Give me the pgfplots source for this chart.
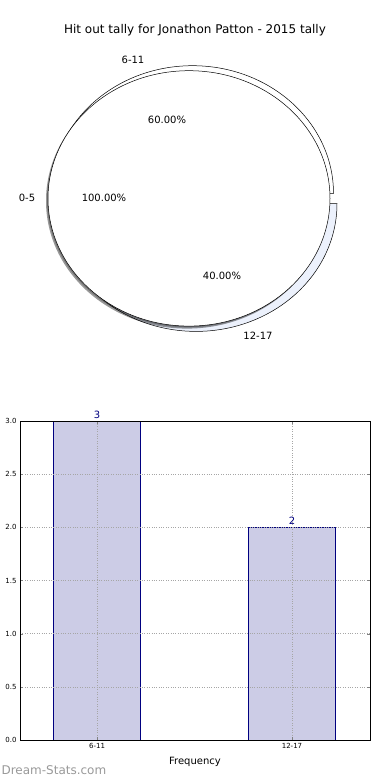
\documentclass[border=0pt]{standalone}
\usepackage{pgfplots}
\pgfplotsset{compat=1.18}
\usepackage{fontspec}
\setmainfont{DejaVu Sans}
\definecolor{barfill}{RGB}{204,204,230}
\definecolor{baredge}{RGB}{0,0,128}
\definecolor{wedgeblue}{RGB}{236,241,252}
\newcommand{\fs}[1]{\fontsize{#1bp}{#1bp}\selectfont}
\begin{document}
\begin{tikzpicture}
\useasboundingbox (0,0) rectangle (390bp,780bp);
% ---------- pie ----------
\def\vA{3}\def\vB{2}
\pgfmathsetmacro{\aA}{360*\vA/(\vA+\vB)}
\begin{axis}[at={(189bp,581.6bp)}, anchor=center, scale only axis,
  width=282bp, height=255.4bp, xmin=-1, xmax=1, ymin=-1, ymax=1,
  hide axis, clip=false]
\addplot[draw=none] coordinates {(0,0)};
% 12-17 wedge (exploded)
\filldraw[fill=wedgeblue, draw=black, line width=0.5bp, shift={(7bp,-5.3bp)}]
  (axis cs:0,0) -- ++(\aA:141bp and 127.7bp)
  arc[start angle=\aA, end angle=360, x radius=141bp, y radius=127.7bp] -- cycle;
% 6-11 wedge (exploded)
\filldraw[fill=white, draw=black, line width=0.5bp, shift={(3.5bp,5bp)}]
  (axis cs:0,0) -- ++(0:141bp and 127.7bp)
  arc[start angle=0, end angle=\aA, x radius=141bp, y radius=127.7bp] -- cycle;
% 0-5 full wedge with shadow
\fill[black, opacity=0.4, shift={(-2bp,-2.5bp)}]
  (axis cs:0,0) ellipse[x radius=141bp, y radius=127.7bp];
\fill[black, opacity=0.25, shift={(-1bp,-1.2bp)}]
  (axis cs:0,0) ellipse[x radius=141bp, y radius=127.7bp];
\filldraw[fill=white, draw=black, line width=0.5bp]
  (axis cs:0,0) ellipse[x radius=141bp, y radius=127.7bp];
\end{axis}
% pie texts
\node[font=\fs{12}] at (195bp,750bp) {Hit out tally for Jonathon Patton - 2015 tally};
\node[font=\fs{10}] at (133bp,720bp) {6-11};
\node[font=\fs{10}] at (167bp,660bp) {60.00\%};
\node[font=\fs{10}] at (27bp,582bp) {0-5};
\node[font=\fs{10}] at (104bp,582bp) {100.00\%};
\node[font=\fs{10}] at (222bp,504bp) {40.00\%};
\node[font=\fs{10}] at (258bp,444bp) {12-17};
% ---------- bars ----------
\begin{axis}[at={(20bp,40bp)}, anchor=south west, scale only axis,
  width=350bp, height=319bp,
  xmin=-0.395, xmax=1.4, ymin=0, ymax=3,
  ybar, bar width=0.446, bar shift=0pt,
  xtick={0,1}, xticklabels={6-11,12-17},
  ytick={0,0.5,1,1.5,2,2.5,3},
  yticklabel style={/pgf/number format/.cd, fixed, fixed zerofill, precision=1},
  /pgf/number format/assume math mode=true,
  tick label style={font=\fs{7}},
  xticklabel style={yshift=0bp},
  xlabel={Frequency}, xlabel style={font=\fs{10}, yshift=-2bp},
  grid=major, grid style={dotted, gray!70, line width=0.6bp},
  tick align=inside, major tick length=3bp,
  axis line style={black, line width=0.7bp},
  axis on top,
  nodes near coords, every node near coord/.append style={font=\fs{10}, text=baredge, yshift=-1bp},
  point meta=explicit symbolic]
\addplot[fill=barfill, draw=baredge, line width=0.7bp] coordinates {(0,3) [3] (1,2) [2]};
\end{axis}
\node[anchor=west, font=\fs{12}, text=gray!80] at (-2bp,10bp) {Dream-Stats.com};
\end{tikzpicture}
\end{document}
